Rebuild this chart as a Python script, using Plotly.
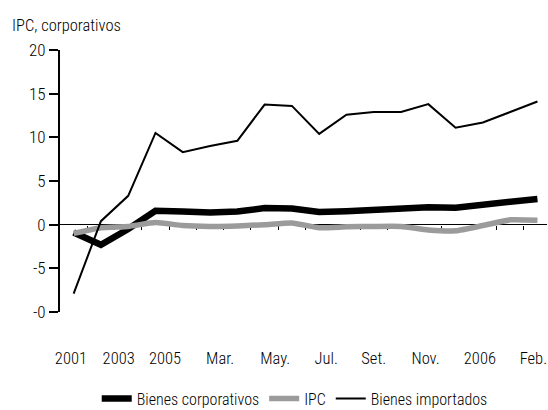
import plotly.graph_objects as go

periods = ["2001", "2002", "2003", "2004", "Ene.05", "Feb.05", "Mar.05", "Abr.05", "May.05",
           "Jun.05", "Jul.05", "Ago.05", "Set.05", "Oct.05", "Nov.05", "Dic.05", "Ene.06", "Feb.06"]
bienes_corporativos = [-0.9, -2.3, -0.5, 1.6, 1.5, 1.4, 1.5, 1.9, 1.85, 1.45, 1.55, 1.75, 1.85, 2.0, 1.95, 2.3, 2.65, 2.95]
ipc = [-1.0, -0.35, -0.2, 0.25, -0.1, -0.2, -0.15, 0.0, 0.2, -0.35, -0.25, -0.2, -0.2, -0.6, -0.7, -0.1, 0.55, 0.5]
bienes_importados = [-7.9, 0.4, 3.3, 10.5, 8.3, 9.0, 9.6, 13.75, 13.6, 10.4, 12.6, 12.9, 12.9, 13.8, 11.1, 11.7, 12.9, 14.1]

x_tick_labels = ["2001", "2003", "2005", "Mar.", "May.", "Jul.", "Set.", "Nov.", "2006", "Feb."]
y_tick_values = [-10, -5, 0, 5, 10, 15, 20]
y_tick_labels = ["-0", "-5", "0", "5", "10", "15", "20"]
y_title = "IPC, corporativos"

FONT = "Roboto Condensed, Liberation Sans Narrow, Arial Narrow, sans-serif"

idx = list(range(len(periods)))

fig = go.Figure()
fig.add_trace(go.Scatter(x=idx, y=bienes_corporativos, mode="lines", name="Bienes corporativos",
                         line=dict(color="black", width=6.5), hoverinfo="skip"))
fig.add_trace(go.Scatter(x=idx, y=ipc, mode="lines", name="IPC",
                         line=dict(color="#9b9b9b", width=5.5, shape="spline", smoothing=0.5), hoverinfo="skip"))
fig.add_trace(go.Scatter(x=idx, y=bienes_importados, mode="lines", name="Bienes importados",
                         line=dict(color="black", width=2), hoverinfo="skip"))
# helper trace for the label axis
fig.add_trace(go.Scatter(x=[0], y=[None], xaxis="x2", showlegend=False, hoverinfo="skip", mode="lines"))

xr = [-0.5, 17.35]
label_pos = [-0.1, 1.65, 3.35, 5.37, 7.39, 9.26, 11.0, 12.9, 14.89, 16.85]

fig.update_layout(
    width=548, height=410,
    margin=dict(l=60, r=1, t=50, b=98, autoexpand=False),
    paper_bgcolor="white", plot_bgcolor="white",
    font=dict(family=FONT, size=16.5, color="black", weight=300),
    xaxis=dict(range=xr, anchor="free", position=1/3, showgrid=False, zeroline=False, showline=False,
               ticks="outside", ticklen=4, tickwidth=1, tickcolor="black",
               tickvals=[i + 0.5 for i in range(len(periods) - 1)], showticklabels=False,
               layer="below traces", fixedrange=True, automargin=False),
    xaxis2=dict(range=xr, overlaying="x", anchor="y", side="bottom", showgrid=False, zeroline=False,
                showline=False, ticks="outside", ticklen=31, tickcolor="rgba(0,0,0,0)",
                tickvals=label_pos, ticktext=x_tick_labels, tickfont=dict(size=16.5, weight=300),
                ticklabeloverflow="allow", automargin=False),
    yaxis=dict(range=[-10, 20], showgrid=False, zeroline=True, zerolinecolor="black", zerolinewidth=1.2,
               showline=True, linecolor="black", linewidth=2, ticks="outside", ticklen=9, tickwidth=1.5,
               tickcolor="black", tickvals=y_tick_values, ticktext=y_tick_labels,
               tickfont=dict(size=17, weight=300), automargin=False),
    legend=dict(orientation="h", x=0.482, xanchor="center", y=-0.266, yanchor="top",
                font=dict(size=16, weight=300), itemwidth=30, tracegroupgap=0),
    annotations=[dict(text=y_title, xref="paper", yref="paper", x=(10 - 60) / 487, y=1.0,
                      xanchor="left", yanchor="bottom", yshift=13, showarrow=False,
                      font=dict(size=16.5, weight=300))],
)

fig.write_html("out.html", config={"displayModeBar": False},
               post_script="document.body.style.margin='0';document.body.style.overflow='hidden';")
